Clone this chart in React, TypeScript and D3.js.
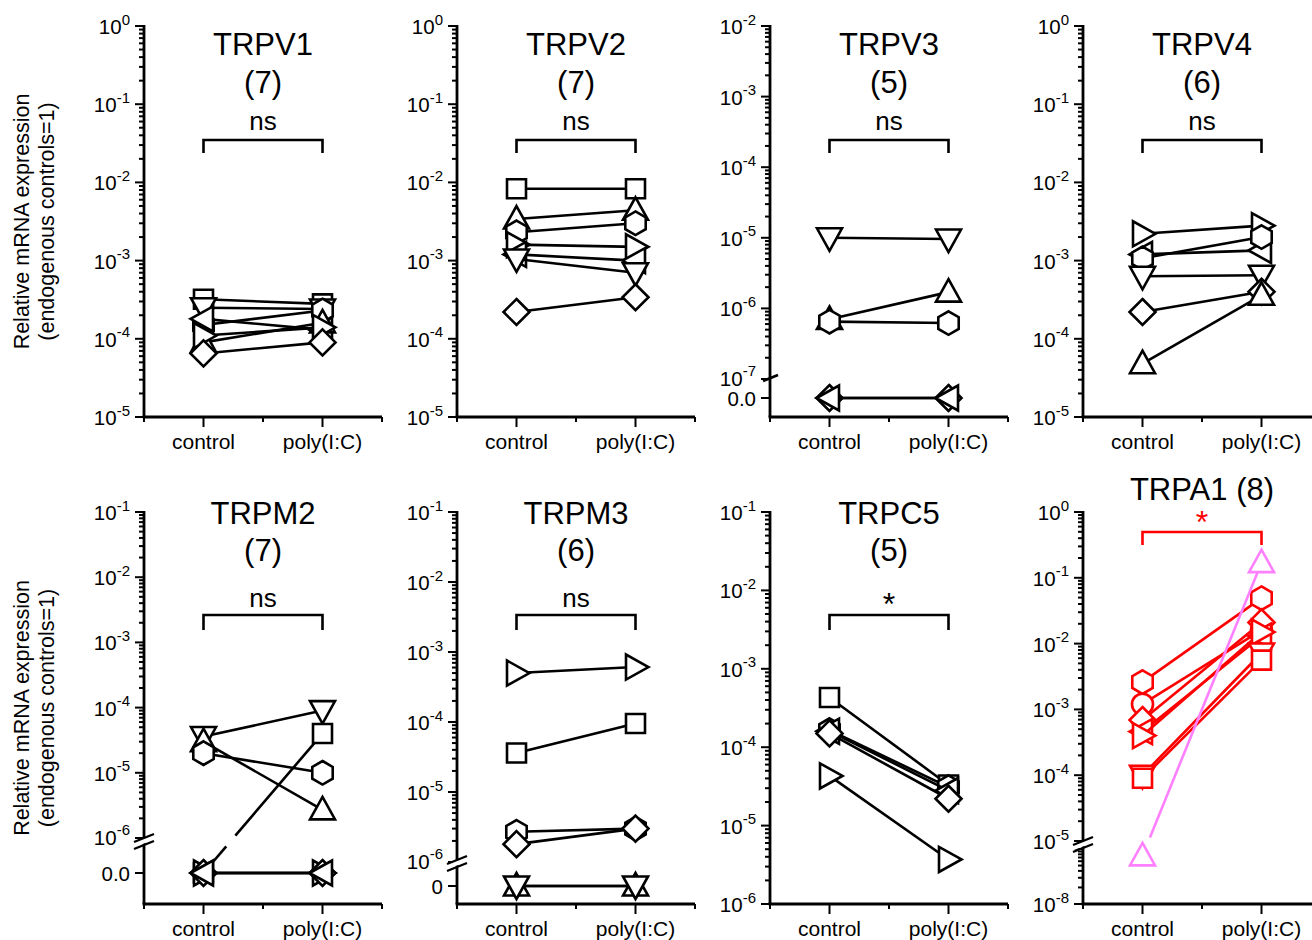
import React from "react";
import * as d3 from "d3";

const FONT = "'Liberation Sans', Arial, Helvetica, sans-serif";
const W = 1312;
const H = 940;

// ---- data ----
const genes = ["TRPV1", "TRPV2", "TRPV3", "TRPV4", "TRPM2", "TRPM3", "TRPC5", "TRPA1"];
const subjectCounts = [7, 7, 5, 6, 7, 6, 5, 8];
const significance = ["ns", "ns", "ns", "ns", "ns", "ns", "*", "*"];
const groupLabels = ["control", "poly(I:C)"];
const groupPositions = [1, 2];
const yAxisTitle = ["Relative mRNA expression", "(endogenous controls=1)"];

const trpv1Shapes = ["square", "downTri", "hexagon", "leftTri", "upTri", "rightTri", "diamond"];
const trpv1Control = [3.2e-4, 2.5e-4, 1.5e-4, 1.8e-4, 9e-5, 1.1e-4, 6.5e-5];
const trpv1Poly = [2.8e-4, 2.4e-4, 2.3e-4, 1.3e-4, 1.6e-4, 1.4e-4, 9e-5];

const trpv2Shapes = ["square", "upTri", "hexagon", "rightTri", "leftTri", "downTri", "diamond"];
const trpv2Control = [8.3e-3, 3.4e-3, 2.3e-3, 1.6e-3, 1.2e-3, 1.05e-3, 2.2e-4];
const trpv2Poly = [8.3e-3, 4.4e-3, 3.0e-3, 1.5e-3, 1.0e-3, 7e-4, 3.4e-4];

const trpv3Shapes = ["downTri", "upTri", "hexagon", "diamond", "leftTri"];
const trpv3Control = [1e-5, 7e-7, 6.5e-7, 0, 0];
const trpv3Poly = [9.6e-6, 1.7e-6, 6.2e-7, 0, 0];

const trpv4Shapes = ["rightTri", "leftTri", "hexagon", "downTri", "diamond", "upTri"];
const trpv4Control = [2.2e-3, 1.2e-3, 1.07e-3, 6.3e-4, 2.2e-4, 4.8e-5];
const trpv4Poly = [2.8e-3, 1.35e-3, 2.0e-3, 6.5e-4, 4.0e-4, 3.6e-4];

const trpm2Shapes = ["downTri", "upTri", "hexagon", "square", "rightTri", "diamond", "leftTri"];
const trpm2Control = [3.6e-5, 3e-5, 2e-5, 0, 0, 0, 0];
const trpm2Poly = [9e-5, 2.7e-6, 1e-5, 4e-5, 0, 0, 0];

const trpm3Shapes = ["rightTri", "square", "hexagon", "diamond", "upTri", "downTri"];
const trpm3Control = [5e-4, 3.6e-5, 2.7e-6, 1.8e-6, 0, 0];
const trpm3Poly = [6.1e-4, 9.5e-5, 3e-6, 3e-6, 0, 0];

const trpc5Shapes = ["square", "hexagon", "leftTri", "diamond", "rightTri"];
const trpc5Control = [4.3e-4, 1.65e-4, 1.6e-4, 1.5e-4, 4.3e-5];
const trpc5Poly = [3.3e-5, 3.1e-5, 2.8e-5, 2.2e-5, 3.7e-6];

const trpa1Shapes = ["hexagon", "circle", "diamond", "leftTri", "rightTri", "downTri", "square", "upTri"];
const trpa1Control = [2.6e-3, 1.2e-3, 6.9e-4, 4.6e-4, 4.0e-4, 1.0e-4, 9e-5, 7.5e-8];
const trpa1Poly = [4.9e-2, 1.6e-2, 2.1e-2, 1.3e-2, 1.5e-2, 7.2e-3, 5.6e-3, 0.17];

const shapeSets = [trpv1Shapes, trpv2Shapes, trpv3Shapes, trpv4Shapes, trpm2Shapes, trpm3Shapes, trpc5Shapes, trpa1Shapes];
const controlSets = [trpv1Control, trpv2Control, trpv3Control, trpv4Control, trpm2Control, trpm3Control, trpc5Control, trpa1Control];
const polySets = [trpv1Poly, trpv2Poly, trpv3Poly, trpv4Poly, trpm2Poly, trpm3Poly, trpc5Poly, trpa1Poly];

// y axis decades (exponents): upper log segment, optional lower segment, optional zero label
const decadeRanges = [[-5, 0], [-5, 0], [-7, -2], [-5, 0], [-6, -1], [-6, -1], [-6, -1], [-5, 0]];
const lowerDecades: (number[] | null)[] = [null, null, null, null, null, null, null, [-8, -7]];
const zeroLabels: (string | null)[] = [null, null, "0.0", null, "0.0", "0", null, null];

// ---- layout ----
const colX = (c: number) => 144 + 313 * c;
const rowTop = [26, 512];
const rowAxis = [417, 904];
const upperBottomPx = [417, 417, 379, 417, 838, 862, 904, 841];
const zeroPx: (number | null)[] = [null, null, 398, null, 873, 886, null, null];
const lowerTopPx: (number | null)[] = [null, null, null, null, null, null, null, 849];
const breakPx: (number | null)[] = [null, null, 378, null, 841, 863, null, 844];
const doubleBreak = [false, false, false, false, true, true, false, true];
const trpa1Palette = ["#ff0000", "#ff0000", "#ff0000", "#ff0000", "#ff0000", "#ff0000", "#ff0000", "#ff80ff"];

function markerPath(shape: string): string {
  switch (shape) {
    case "square":
      return "M-9.5,-9.5H9.5V9.5H-9.5Z";
    case "diamond":
      return "M0,-13L13,0L0,13L-13,0Z";
    case "upTri":
      return "M0,-13L12.5,9.5L-12.5,9.5Z";
    case "downTri":
      return "M0,13L12.5,-9.5L-12.5,-9.5Z";
    case "leftTri":
      return "M-13,0L9.5,-12.5L9.5,12.5Z";
    case "rightTri":
      return "M13,0L-9.5,-12.5L-9.5,12.5Z";
    case "hexagon": {
      const p = d3.path();
      for (let k = 0; k < 6; k++) {
        const a = ((-90 + 60 * k) * Math.PI) / 180;
        const px = 11.8 * Math.cos(a);
        const py = 11.8 * Math.sin(a);
        if (k === 0) p.moveTo(px, py);
        else p.lineTo(px, py);
      }
      p.closePath();
      return p.toString();
    }
    default: {
      const p = d3.path();
      p.arc(0, 0, 10.5, 0, Math.PI * 2);
      p.closePath();
      return p.toString();
    }
  }
}

function splitAtBreak(x1: number, y1: number, x2: number, y2: number, by: number | null) {
  if (by == null || (y1 - by) * (y2 - by) >= 0) return [[x1, y1, x2, y2]];
  const t = (by - y1) / (y2 - y1);
  const dt = 7 / Math.hypot(x2 - x1, y2 - y1);
  const at = (s: number) => [x1 + (x2 - x1) * s, y1 + (y2 - y1) * s];
  const a = at(t - dt);
  const b = at(t + dt);
  return [
    [x1, y1, a[0], a[1]],
    [b[0], b[1], x2, y2],
  ];
}

const isDecade = (v: number) => Math.abs(Math.log10(v) - Math.round(Math.log10(v))) < 1e-6;

function DecadeLabel({ x, y, e }: { x: number; y: number; e: number }) {
  return (
    <text x={x} y={y + 8} textAnchor="end" fontSize={20.5}>
      10
      <tspan dy={-9.5} fontSize={15}>
        {String(e)}
      </tspan>
    </text>
  );
}

function Panel({ i }: { i: number }) {
  const col = i % 4;
  const row = Math.floor(i / 4);
  const x0 = colX(col);
  const top = rowTop[row];
  const base = rowAxis[row];
  const [eLo, eHi] = decadeRanges[i];
  const upper = d3.scaleLog().domain([10 ** eLo, 10 ** eHi]).range([upperBottomPx[i], top]);
  const lowDec = lowerDecades[i];
  const lower = lowDec
    ? d3.scaleLog().domain([10 ** lowDec[0], 10 ** lowDec[1]]).range([base, lowerTopPx[i] as number])
    : null;
  const x = d3.scaleLinear().domain([0.5, 2.5]).range([x0, x0 + 238]);
  const y = (v: number) => {
    if (v === 0) return zeroPx[i] as number;
    if (lower && v < 10 ** eLo * 0.999) return lower(v);
    return upper(v);
  };
  const ink = i === 7 ? "#ff0000" : "#000";
  const cx = (x(groupPositions[0]) + x(groupPositions[1])) / 2;
  const bx1 = x(groupPositions[0]);
  const bx2 = x(groupPositions[1]);
  const by = breakPx[i];

  const upperTicks = upper.ticks();
  const lowerTicks = lower ? lower.ticks() : [];

  // title block
  let title: React.ReactNode;
  let bracketTop: number;
  let bracketBottom: number;
  if (i === 7) {
    title = (
      <>
        <text x={cx} y={500} textAnchor="middle" fontSize={31}>
          {genes[i]} ({subjectCounts[i]})
        </text>
        <text x={cx} y={533} textAnchor="middle" fontSize={32} fill={ink}>
          {significance[i]}
        </text>
      </>
    );
    bracketTop = 532;
    bracketBottom = 545;
  } else {
    const nameY = row === 0 ? 55 : 524;
    const countY = row === 0 ? 93 : 561;
    const isStar = significance[i] === "*";
    const sigY = row === 0 ? 130 : isStar ? 615 : 607;
    title = (
      <>
        <text x={cx} y={nameY} textAnchor="middle" fontSize={31}>
          {genes[i]}
        </text>
        <text x={cx} y={countY} textAnchor="middle" fontSize={31}>
          ({subjectCounts[i]})
        </text>
        <text x={cx} y={sigY} textAnchor="middle" fontSize={isStar ? 32 : 26}>
          {significance[i]}
        </text>
      </>
    );
    bracketTop = row === 0 ? 140 : 615;
    bracketBottom = row === 0 ? 153 : 630;
  }

  const shapes = shapeSets[i];
  const ctrl = controlSets[i];
  const poly = polySets[i];

  return (
    <g>
      {title}
      <path
        d={`M${bx1},${bracketBottom}V${bracketTop}H${bx2}V${bracketBottom}`}
        fill="none"
        stroke={ink}
        strokeWidth={2.6}
      />

      {/* y axis */}
      <line x1={x0} x2={x0} y1={top - 1} y2={base} stroke="#000" strokeWidth={2.8} />
      {upperTicks.map((v, k) => {
        const major = isDecade(v);
        const ty = upper(v);
        return (
          <g key={"u" + k}>
            <line x1={x0 - (major ? 9 : 5)} x2={x0} y1={ty} y2={ty} stroke="#000" strokeWidth={2} />
            {major && <DecadeLabel x={x0 - 14} y={by != null && Math.abs(ty - by) < 4 && zeroLabels[i] ? ty - 1.5 : ty} e={Math.round(Math.log10(v))} />}
          </g>
        );
      })}
      {lowerTicks.map((v, k) => {
        const major = isDecade(v);
        const ty = (lower as d3.ScaleLogarithmic<number, number>)(v);
        const showLabel = major && lowDec && Math.round(Math.log10(v)) === lowDec[0];
        return (
          <g key={"l" + k}>
            <line x1={x0 - (major ? 9 : 5)} x2={x0} y1={ty} y2={ty} stroke="#000" strokeWidth={2} />
            {showLabel && <DecadeLabel x={x0 - 14} y={ty} e={Math.round(Math.log10(v))} />}
          </g>
        );
      })}
      {zeroLabels[i] != null && (
        <g>
          <line x1={x0 - 9} x2={x0} y1={zeroPx[i] as number} y2={zeroPx[i] as number} stroke="#000" strokeWidth={2} />
          <text x={x0 - 14} y={(zeroPx[i] as number) + 8} textAnchor="end" fontSize={20.5}>
            {zeroLabels[i]}
          </text>
        </g>
      )}
      {by != null && (
        <g>
          {doubleBreak[i] ? (
            <>
              <path d={`M${x0 - 9},${by + 6}L${x0 + 9},${by - 1}L${x0 + 9},${by - 6}L${x0 - 9},${by + 1}Z`} fill="#fff" />
              <line x1={x0 - 10} y1={by + 8} x2={x0 + 10} y2={by + 0} stroke="#000" strokeWidth={2.2} />
              <line x1={x0 - 10} y1={by + 1} x2={x0 + 10} y2={by - 7} stroke="#000" strokeWidth={2.2} />
            </>
          ) : (
            <line x1={x0 - 7} y1={by + 3} x2={x0 + 8} y2={by - 3} stroke="#000" strokeWidth={2.6} />
          )}
        </g>
      )}

      {/* x axis */}
      <line x1={x0 - 1.4} x2={x0 + 238} y1={base} y2={base} stroke="#000" strokeWidth={2.8} />
      {[0.5, 1, 1.5, 2, 2.5].map((t) => {
        const major = Number.isInteger(t);
        return (
          <line key={t} x1={x(t)} x2={x(t)} y1={base} y2={base + (major ? 10 : 5)} stroke="#000" strokeWidth={2} />
        );
      })}
      {groupLabels.map((lab, k) => (
        <text key={lab} x={x(groupPositions[k])} y={base + 32} textAnchor="middle" fontSize={21}>
          {lab}
        </text>
      ))}

      {/* paired subjects */}
      {shapes.map((shape, k) => {
        const color = i === 7 ? trpa1Palette[k] : "#000";
        const xa = x(groupPositions[0]);
        const xb = x(groupPositions[1]);
        const ya = y(ctrl[k]);
        const yb = y(poly[k]);
        const d = markerPath(shape);
        return (
          <g key={k}>
            {splitAtBreak(xa, ya, xb, yb, by).map((s, m) => (
              <line key={m} x1={s[0]} y1={s[1]} x2={s[2]} y2={s[3]} stroke={color} strokeWidth={2.6} />
            ))}
            <path d={d} transform={`translate(${xa},${ya})`} fill="#fff" stroke={color} strokeWidth={2.6} />
            <path d={d} transform={`translate(${xb},${yb})`} fill="#fff" stroke={color} strokeWidth={2.6} />
          </g>
        );
      })}
    </g>
  );
}

export default function App() {
  return (
    <svg
      width={W}
      height={H}
      style={{ position: "absolute", left: 0, top: 0, background: "#fff" }}
      fontFamily={FONT}
    >
      <rect width={W} height={H} fill="#fff" />
      {[0, 1].map((r) => {
        const cy = (rowTop[r] + rowAxis[r]) / 2;
        return (
          <g key={r}>
            <text transform={`translate(29,${cy}) rotate(-90)`} textAnchor="middle" fontSize={21.5}>
              {yAxisTitle[0]}
            </text>
            <text transform={`translate(54,${cy}) rotate(-90)`} textAnchor="middle" fontSize={21.5}>
              {yAxisTitle[1]}
            </text>
          </g>
        );
      })}
      {genes.map((g, i) => (
        <Panel key={g} i={i} />
      ))}
    </svg>
  );
}
